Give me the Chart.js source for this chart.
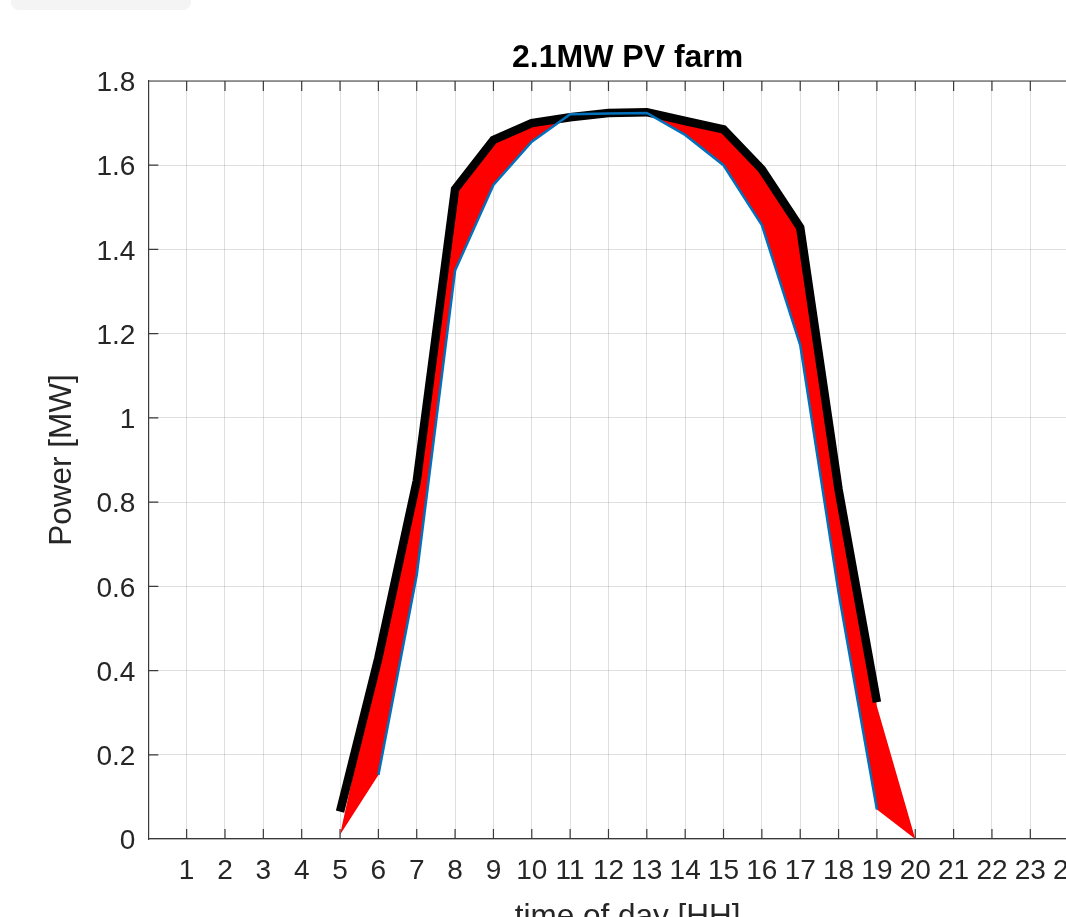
<!DOCTYPE html>
<html>
<head>
<meta charset="utf-8">
<script src="https://cdn.jsdelivr.net/npm/chart.js@4"></script>
<style>
  html, body { margin: 0; padding: 0; background: #fff; overflow: hidden; }
  #tab { position: absolute; left: 11px; top: 0; width: 180px; height: 10px; background: #f4f4f4; border-radius: 0 0 8px 8px; }
  #wrap { position: absolute; left: 0; top: 0; width: 1140px; height: 960px; }
</style>
</head>
<body>
<div id="tab"></div>
<div id="wrap"><canvas id="pv" width="1140" height="960"></canvas></div>
<script>
// hours of the day
const blackHours = [5, 6, 7, 8, 9, 10, 11, 12, 13, 14, 15, 16, 17, 18, 19];
const blackMW = [0.065, 0.43, 0.85, 1.543, 1.66, 1.70, 1.714, 1.724, 1.726, 1.705, 1.685, 1.59, 1.452, 0.83, 0.325];

const blueHours = [6, 7, 8, 9, 10, 11, 12, 13, 14, 15, 16, 17, 18, 19];
const blueMW = [0.152, 0.627, 1.35, 1.553, 1.656, 1.721, 1.723, 1.724, 1.672, 1.60, 1.458, 1.173, 0.585, 0.07];

// red band between the two curves, closed at 5h and 20h
const bandHours = [5, 6, 7, 8, 9, 10, 11, 12, 13, 14, 15, 16, 17, 18, 19, 20];
const bandUpper = [0.01, 0.43, 0.85, 1.543, 1.66, 1.70, 1.714, 1.724, 1.726, 1.705, 1.685, 1.59, 1.452, 0.83, 0.315, 0];
const bandLower = [0.01, 0.152, 0.627, 1.35, 1.553, 1.656, 1.721, 1.723, 1.724, 1.672, 1.60, 1.458, 1.173, 0.585, 0.07, 0];

const xTicks = [0, 25];   // axis range, step 1
const yTicks = [0, 1.8];  // axis range, step 0.2

function pts(xs, ys) {
  return xs.map(function(x, i) { return {x: x, y: ys[i]}; });
}

const axisColor = '#262626';
const fontFamily = "'Liberation Sans', Arial, Helvetica, sans-serif";

// matlab style box: top border + inward ticks
const boxTicks = {
  id: 'boxTicks',
  afterDraw: function(chart) {
    const ctx = chart.ctx;
    const a = chart.chartArea;
    const xs = chart.scales.x, ys = chart.scales.y;
    const len = 10;
    ctx.save();
    ctx.strokeStyle = '#3a3a3a';
    ctx.lineWidth = 1.2;
    ctx.beginPath();
    ctx.moveTo(a.left, a.top);
    ctx.lineTo(a.right, a.top);
    for (let h = xTicks[0] + 1; h <= xTicks[1]; h++) {
      const px = xs.getPixelForValue(h);
      ctx.moveTo(px, a.bottom);
      ctx.lineTo(px, a.bottom - len);
      ctx.moveTo(px, a.top);
      ctx.lineTo(px, a.top + len);
    }
    for (let v = 1; v < 9; v++) {
      const py = ys.getPixelForValue(v * 0.2);
      ctx.moveTo(a.left, py);
      ctx.lineTo(a.left + len, py);
    }
    ctx.stroke();
    ctx.restore();
  }
};

new Chart(document.getElementById('pv'), {
  type: 'line',
  data: {
    datasets: [
      {
        data: pts(blueHours, blueMW),
        borderColor: '#0072BD',
        borderWidth: 2.5,
        pointRadius: 0,
        fill: false
      },
      {
        data: pts(blackHours, blackMW),
        borderColor: '#000000',
        borderWidth: 8.5,
        pointRadius: 0,
        fill: false
      },
      {
        data: pts(bandHours, bandUpper),
        borderColor: 'rgba(0,0,0,0)',
        borderWidth: 0,
        pointRadius: 0,
        backgroundColor: '#ff0000',
        fill: '+1'
      },
      {
        data: pts(bandHours, bandLower),
        borderColor: 'rgba(0,0,0,0)',
        borderWidth: 0,
        pointRadius: 0,
        fill: false
      }
    ]
  },
  options: {
    responsive: false,
    animation: false,
    events: [],
    layout: { padding: { left: 0, right: 33, top: 0, bottom: 0 } },
    plugins: {
      legend: { display: false },
      tooltip: { enabled: false },
      title: {
        display: true,
        fullSize: false,
        text: '2.1MW PV farm',
        color: '#000',
        font: { family: fontFamily, size: 32, weight: 'bold', lineHeight: 1.2 },
        padding: { top: 39, bottom: 3.6 }
      }
    },
    scales: {
      x: {
        type: 'linear',
        min: xTicks[0],
        max: xTicks[1],
        afterFit: function(s) { s.height = 121; },
        ticks: {
          stepSize: 1,
          autoSkip: false,
          maxRotation: 0,
          padding: 15,
          color: axisColor,
          font: { family: fontFamily, size: 28 },
          callback: function(v) { return v === 0 ? '' : String(v); }
        },
        grid: { color: 'rgba(38,38,38,0.15)', lineWidth: 1, drawTicks: false },
        border: { color: '#3a3a3a', width: 1.2 },
        title: {
          display: true,
          text: 'time of day [HH]',
          color: axisColor,
          font: { family: fontFamily, size: 31.5, lineHeight: 1.2 },
          padding: { top: 0, bottom: 24 }
        }
      },
      y: {
        min: yTicks[0],
        max: yTicks[1],
        afterFit: function(s) { s.width = 148.3; },
        ticks: {
          stepSize: 0.2,
          padding: 13,
          labelOffset: 2.5,
          color: axisColor,
          font: { family: fontFamily, size: 28 },
          callback: function(v) { return String(Number(v.toFixed(1))); }
        },
        grid: { color: 'rgba(38,38,38,0.15)', lineWidth: 1, drawTicks: false },
        border: { color: '#3a3a3a', width: 1.2 },
        title: {
          display: true,
          text: 'Power [MW]',
          color: axisColor,
          font: { family: fontFamily, size: 31.5, lineHeight: 1.2 },
          padding: { top: 43, bottom: 0 }
        }
      }
    }
  },
  plugins: [boxTicks]
});
</script>
</body>
</html>
